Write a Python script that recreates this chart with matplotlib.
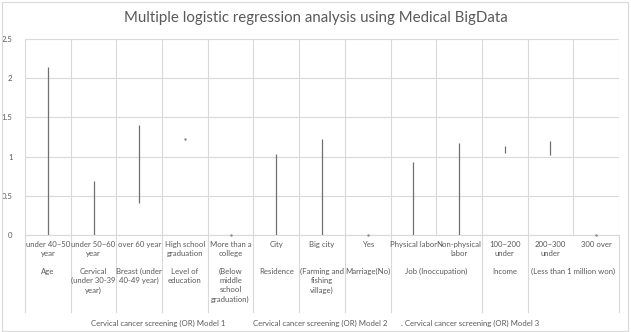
import matplotlib
matplotlib.use('Agg')
import matplotlib.pyplot as plt
from matplotlib.patches import Rectangle
from matplotlib.lines import Line2D

plt.rcParams['font.family'] = ['Lato', 'DejaVu Sans']

# data (high / low end of each OR line)
categories = ['under 40~50\nyear', 'under 50~60\nyear', 'over 60 year', 'High school\ngraduation',
              'More than a\ncollege', 'City', 'Big city', 'Yes', 'Physical labor',
              'Non-physical\nlabor', '100~200\nunder', '200~300\nunder', '300 over']
or_high = [2.14, 0.69, 1.40, 1.22, 0.0, 1.03, 1.22, 0.0, 0.93, 1.17, 1.14, 1.20, 0.0]
or_low = [0.0, 0.0, 0.41, 1.22, 0.0, 0.0, 0.0, 0.0, 0.0, 0.0, 1.04, 1.02, 0.0]

# second level of the category axis: (first col, last col + 1, text)
groups = [(0, 1, 'Age'), (1, 2, 'Cervical\n(under 30-39\nyear)'), (2, 3, 'Breast (under\n40-49 year)'),
          (3, 4, 'Level of\neducation'), (4, 5, '(Below\nmiddle\nschool\ngraduation)'),
          (5, 6, 'Residence'), (6, 7, '(Farming and\nfishing\nvillage)'), (7, 8, 'Marriage(No)'),
          (8, 10, 'Job (Inoccupation)'), (10, 11, 'Income'), (11, 13, '(Less than 1 million won)')]

legend_labels = ['Cervical cancer screening (OR) Model 1',
                 'Cervical cancer screening (OR) Model 2',
                 'Cervical cancer screening (OR) Model 3']

W, H = 631, 332
fig = plt.figure(figsize=(W / 100, H / 100), dpi=100)
ax = fig.add_axes([25 / W, 1 - 235 / H, (619 - 25) / W, 196 / H])

grey = '#d9d9d9'
txt = '#595959'
fs = 5.6

n = len(categories)
xs = [i + 0.5 for i in range(n)]
for x, hi, lo in zip(xs, or_high, or_low):
    if hi - lo > 0.02:
        ax.vlines(x, lo, hi, color='#707070', lw=0.9, zorder=3)
    else:
        ax.plot(x, hi, marker='.', ms=1.5, color='#888888', zorder=3, clip_on=False)

ax.set_xlim(0, n)
ax.set_ylim(0, 2.5)
ax.set_yticks([0, 0.5, 1, 1.5, 2, 2.5])
ax.set_yticklabels(['0', '0.5', '1', '1.5', '2', '2.5'])
ax.tick_params(axis='y', length=0, labelsize=fs, labelcolor=txt, pad=9)
ax.set_xticks(range(n + 1))
ax.set_xticklabels([])
ax.tick_params(axis='x', length=0)
ax.grid(True, color=grey, lw=0.8)
ax.set_axisbelow(True)
for s in ['left', 'right', 'top']:
    ax.spines[s].set_visible(False)
ax.spines['bottom'].set_color(grey)

def ay(py):
    # pixel row -> axes fraction
    return (235 - py) / 196

tr = ax.get_xaxis_transform()
for x, lab in zip(xs, categories):
    ax.text(x, ay(241), lab, transform=tr, ha='center', va='top', fontsize=fs,
            color=txt, linespacing=1.35)
for a, b, lab in groups:
    ax.text((a + b) / 2, ay(268), lab, transform=tr, ha='center', va='top', fontsize=fs,
            color=txt, linespacing=1.35)

edges = sorted(set([g[0] for g in groups] + [g[1] for g in groups]))
for e in edges:
    ax.add_line(Line2D([e, e], [0, ay(312)], transform=tr, color=grey, lw=0.8, clip_on=False))

fig.suptitle('Multiple logistic regression analysis using Medical BigData', y=1 - 18 / H,
             va='center', fontsize=10.8, color=txt)

fig.text(158 / W, 1 - 323 / H, legend_labels[0], ha='center', va='center', fontsize=fs, color=txt)
fig.text(320 / W, 1 - 323 / H, legend_labels[1], ha='center', va='center', fontsize=fs, color=txt)
fig.text(470 / W, 1 - 323 / H, '. ' + legend_labels[2], ha='center', va='center', fontsize=fs, color=txt)

fig.patches.append(Rectangle((2 / W, 1 / H), (W - 5) / W, (H - 3) / H, transform=fig.transFigure,
                             fill=False, ec=grey, lw=0.8))

fig.savefig('out.png', dpi=100)
